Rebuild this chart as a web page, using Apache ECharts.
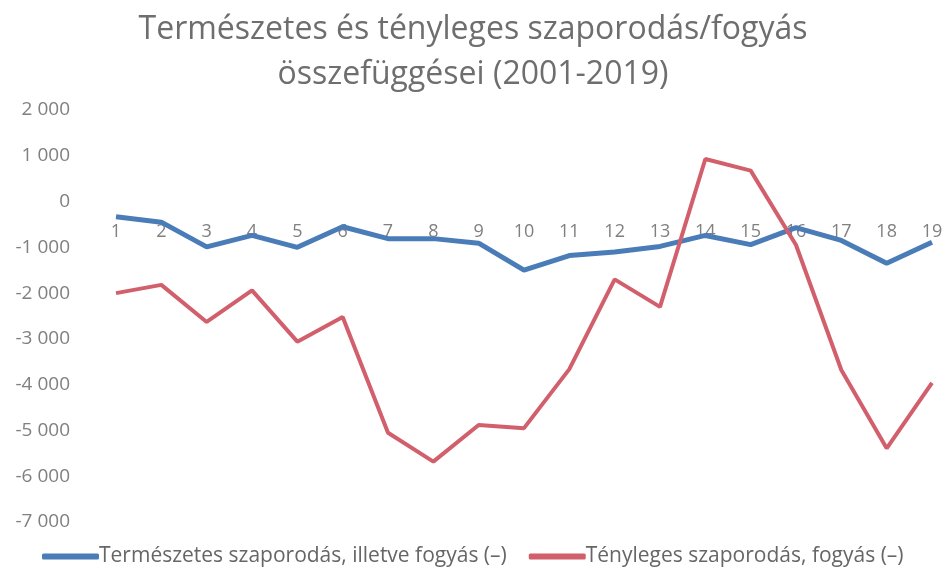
<!DOCTYPE html>
<html>
<head>
<meta charset="utf-8">
<script src="https://cdn.jsdelivr.net/npm/echarts@6/dist/echarts.min.js"></script>
<style>
  html, body { margin: 0; padding: 0; background: #fff; }
  #chart { width: 946px; height: 570px; }
</style>
</head>
<body>
<div id="chart"></div>
<script>
// évek sorszáma (2001-2019)
const categories = ['1', '2', '3', '4', '5', '6', '7', '8', '9', '10',
  '11', '12', '13', '14', '15', '16', '17', '18', '19']

// természetes szaporodás, illetve fogyás
const naturalChange = [-330, -450, -990, -740, -1000, -550, -810, -810, -910, -1500,
  -1180, -1100, -980, -740, -940, -570, -850, -1350, -890]

// tényleges szaporodás, fogyás
const actualChange = [-2000, -1820, -2630, -1940, -3060, -2520, -5050, -5680, -4880, -4950,
  -3660, -1700, -2300, 930, 675, -950, -3680, -5390, -3960]

const yTicks = { min: -7000, max: 2000, interval: 1000 }

const seriesNames = [
  'Természetes szaporodás, illetve fogyás (–)',
  'Tényleges szaporodás, fogyás (–)'
]

const fontFamily = '"Open Sans", "Noto Sans", sans-serif'

const gridSet = { left: 116, right: 14, top: 110, bottom: 48 }
const gridHeight = 570 - gridSet.top - gridSet.bottom
// a kategóriatengely a 0 értéknél fut (mint az Excelben)
const xAxisOffset = -gridHeight * (0 - yTicks.min) / (yTicks.max - yTicks.min)

// ezres tagolás szóközzel
function fmt (v) {
  const s = String(Math.abs(v)).replace(/\B(?=(\d{3})+(?!\d))/g, ' ')
  return (v < 0 ? '-' : '') + s
}

const myChart = echarts.init(document.getElementById('chart'), null, { renderer: 'canvas' })

const chartOption = {
  animation: false,
  textStyle: { fontFamily: fontFamily },
  title: {
    text: 'Természetes és tényleges szaporodás/fogyás\nösszefüggései (2001-2019)',
    left: 'center',
    top: 2,
    textStyle: {
      fontFamily: fontFamily,
      fontSize: 32,
      fontWeight: 'normal',
      lineHeight: 45,
      color: '#6e6e6e'
    }
  },
  legend: {
    top: 541,
    left: 37,
    itemWidth: 57,
    itemHeight: 6,
    itemGap: 22,
    icon: 'roundRect',
    textStyle: { fontSize: 21, color: '#666', padding: [0, 0, 0, -5] },
    data: seriesNames
  },
  grid: gridSet,
  xAxis: {
    type: 'category',
    data: categories,
    boundaryGap: false,
    position: 'bottom',
    offset: xAxisOffset,
    axisLine: { show: false, onZero: false },
    axisTick: { show: false },
    axisLabel: { color: '#808080', fontSize: 18, margin: 21 }
  },
  yAxis: {
    type: 'value',
    min: yTicks.min,
    max: yTicks.max,
    interval: yTicks.interval,
    splitLine: { show: false },
    axisLine: { show: false },
    axisTick: { show: false },
    axisLabel: {
      color: '#808080',
      fontSize: 19,
      margin: 46,
      formatter: fmt
    }
  },
  series: [
    {
      name: seriesNames[0],
      type: 'line',
      data: naturalChange,
      showSymbol: false,
      lineStyle: { width: 5, color: '#4a7db8' },
      itemStyle: { color: '#4a7db8' }
    },
    {
      name: seriesNames[1],
      type: 'line',
      data: actualChange,
      showSymbol: false,
      lineStyle: { width: 4, color: '#d25f6c' },
      itemStyle: { color: '#d25f6c' }
    }
  ]
}

myChart.setOption(chartOption)
window.addEventListener('resize', myChart.resize)
</script>
</body>
</html>
